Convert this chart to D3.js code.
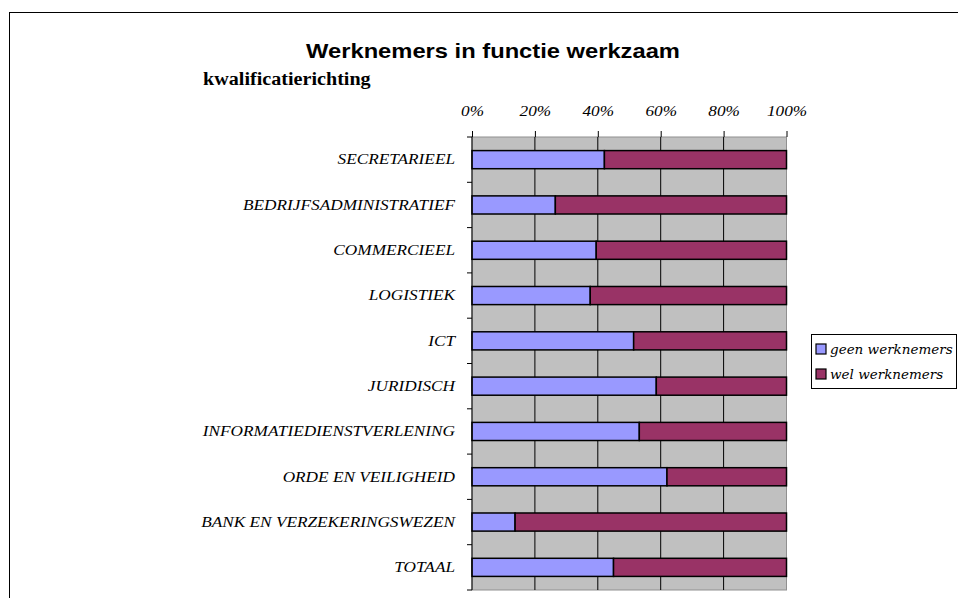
<!DOCTYPE html>
<html><head><meta charset="utf-8">
<script src="https://cdn.jsdelivr.net/npm/d3@7"></script>
<style>body{margin:0;background:#fff}svg{display:block}</style>
</head><body>
<svg id="c" width="958" height="598"></svg>
<script>
const categories = ["SECRETARIEEL","BEDRIJFSADMINISTRATIEF","COMMERCIEEL","LOGISTIEK","ICT","JURIDISCH","INFORMATIEDIENSTVERLENING","ORDE EN VEILIGHEID","BANK EN VERZEKERINGSWEZEN","TOTAAL"];
const geenWerknemers = [42.1, 26.5, 39.5, 37.6, 51.4, 58.6, 53.2, 62.0, 13.7, 45.0];
const welWerknemers = geenWerknemers.map(v => 100 - v);
const seriesNames = ["geen werknemers","wel werknemers"];
const seriesColors = ["#9999ff","#993366"];
const tickValues = [0,20,40,60,80,100];

const SERIF = "'Liberation Serif', 'Times New Roman', serif";
const SANS = "'Liberation Sans', Arial, sans-serif";
const SX = 1.15;

const svg = d3.select("#c");
// outer frame
svg.append("rect").attr("x",9.5).attr("y",12.5).attr("width",1000).attr("height",1000)
  .attr("fill","none").attr("stroke","#000").attr("stroke-width",1);

svg.append("text").attr("transform","translate(493,58) scale(1.13,1)").attr("text-anchor","middle")
  .style("font-family",SANS).attr("font-weight","bold").attr("font-size",21)
  .text("Werknemers in functie werkzaam");
svg.append("text").attr("transform","translate(203,85) scale(1.06,1)")
  .style("font-family",SERIF).attr("font-weight","bold").attr("font-size",19)
  .text("kwalificatierichting");

const x = d3.scaleLinear().domain([0,100]).range([472,786.5]);
const y = d3.scaleBand().domain(categories).range([137,590]).paddingInner(0.6).paddingOuter(0.3);
const yEdges = d3.scaleLinear().domain([0,categories.length]).range([137,590]);

// plot background
svg.append("rect").attr("x",x(0)).attr("y",yEdges(0)).attr("width",x(100)-x(0)).attr("height",yEdges(categories.length)-yEdges(0))
  .attr("fill","#c0c0c0").attr("stroke","#909090").attr("stroke-width",1);
// grid lines
svg.append("g").selectAll("line").data(tickValues.slice(1,-1)).join("line")
  .attr("x1",d=>x(d)).attr("x2",d=>x(d)).attr("y1",yEdges(0)).attr("y2",yEdges(categories.length))
  .attr("stroke","#000").attr("stroke-width",1);

// stacked bars
const stackData = categories.map((c,i)=>({cat:c, geen:geenWerknemers[i], wel:welWerknemers[i]}));
const stack = d3.stack().keys(["geen","wel"])(stackData);
svg.append("g").selectAll("g").data(stack).join("g")
  .attr("fill",(d,i)=>seriesColors[i])
  .selectAll("rect").data(d=>d).join("rect")
  .attr("x",d=>x(d[0])).attr("width",d=>x(d[1])-x(d[0]))
  .attr("y",d=>y(d.data.cat)).attr("height",y.bandwidth())
  .attr("stroke","#000").attr("stroke-width",1.5);

// top axis
const xAxis = d3.axisTop(x).tickValues(tickValues).tickFormat(d=>d+"%").tickSize(6).tickPadding(15);
const gx = svg.append("g").attr("transform",`translate(0,${yEdges(0)})`).call(xAxis);
gx.select(".domain").remove();
gx.selectAll("text").style("font-family",SERIF).attr("font-style","italic").attr("font-size",15).attr("fill","#000")
  .attr("transform",`scale(${SX},1)`);

// left axis
svg.append("line").attr("x1",x(0)).attr("x2",x(0)).attr("y1",yEdges(0)).attr("y2",yEdges(categories.length)).attr("stroke","#000");
svg.append("g").selectAll("line").data(d3.range(categories.length+1)).join("line")
  .attr("x1",x(0)-5).attr("x2",x(0)).attr("y1",d=>yEdges(d)).attr("y2",d=>yEdges(d)).attr("stroke","#000");
const yAxis = d3.axisLeft(y).tickSize(0).tickPadding(17/SX);
const gy = svg.append("g").attr("transform",`translate(${x(0)},0)`).call(yAxis);
gy.select(".domain").remove();
gy.selectAll("text").style("font-family",SERIF).attr("font-style","italic").attr("font-size",15).attr("fill","#000")
  .attr("transform",`scale(${SX},1)`);

// legend
const lg = svg.append("g");
lg.append("rect").attr("x",811.5).attr("y",334.5).attr("width",145).attr("height",54).attr("fill","#fff").attr("stroke","#000");
const items = lg.selectAll("g").data(seriesNames).join("g").attr("transform",(d,i)=>`translate(816,${349+i*25})`);
items.append("rect").attr("x",0).attr("y",-5).attr("width",10).attr("height",10)
  .attr("fill",(d,i)=>seriesColors[i]).attr("stroke","#000").attr("stroke-width",1.2);
items.append("text").attr("x",14).attr("y",5)
  .style("font-family","'DejaVu Serif', serif").attr("font-style","italic").attr("font-size",13.5)
  .text(d=>d);
</script>
</body></html>
